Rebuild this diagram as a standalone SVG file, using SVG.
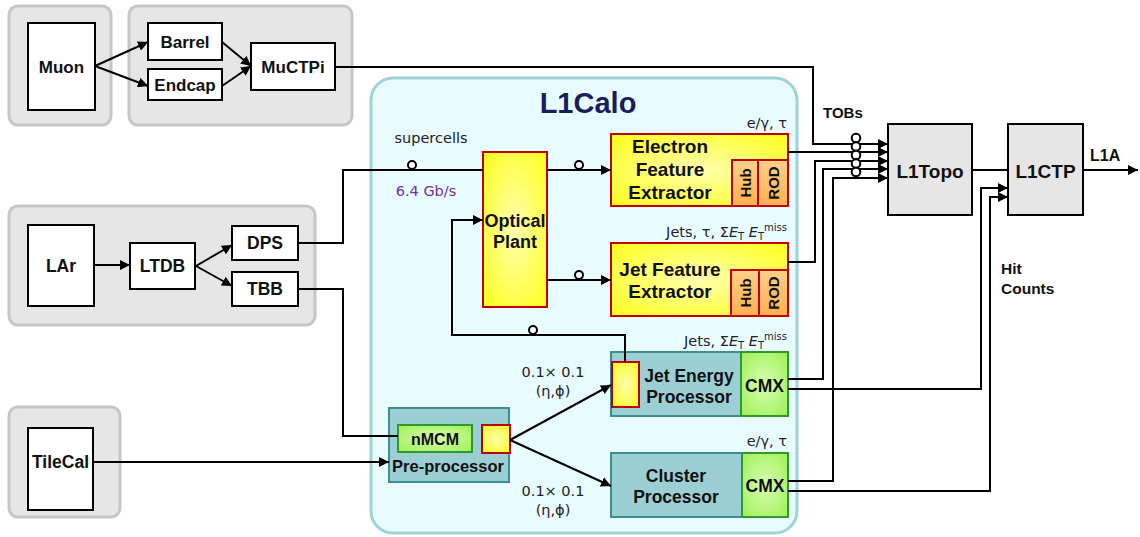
<svg xmlns="http://www.w3.org/2000/svg" width="1140" height="537" viewBox="0 0 1140 537">
<style>
.grp{fill:#e6e6e6;stroke:#c6c6c6;stroke-width:3}
.wb{fill:#fff;stroke:#000;stroke-width:2}
.gb{fill:#e6e6e6;stroke:#000;stroke-width:2}
.yb{fill:url(#yel);stroke:#c00000;stroke-width:2}
.ob{fill:url(#org);stroke:#c00000;stroke-width:2}
.tb{fill:#9ccfd3;stroke:#3d8e93;stroke-width:2}
.cb{fill:url(#grn);stroke:#2e9a2e;stroke-width:2}
.b{font-family:"Liberation Sans",Arial,sans-serif;font-weight:bold;fill:#111;text-anchor:middle}
.bs{font-family:"Liberation Sans",Arial,sans-serif;font-weight:bold;fill:#111;text-anchor:start}
.t{font-family:"DejaVu Sans",Verdana,sans-serif;fill:#222;font-size:14.5px}
.ln{fill:none;stroke:#000;stroke-width:2}
.ring{fill:#fff;stroke:#000;stroke-width:2}
</style>
<defs>
<radialGradient id="yel" cx="0.5" cy="0.5" r="0.75">
<stop offset="0" stop-color="#ffffb0"/><stop offset="1" stop-color="#ffff10"/>
</radialGradient>
<linearGradient id="org" x1="0" y1="0" x2="0" y2="1">
<stop offset="0" stop-color="#ffd088"/><stop offset="1" stop-color="#ffb050"/>
</linearGradient>
<radialGradient id="grn" cx="0.5" cy="0.5" r="0.75">
<stop offset="0" stop-color="#d8ffb0"/><stop offset="1" stop-color="#99ee50"/>
</radialGradient>
<marker id="ar" viewBox="0 0 10 10" refX="10" refY="5" markerWidth="10" markerHeight="10" markerUnits="userSpaceOnUse" orient="auto">
<path d="M0,0 L10,5 L0,10 z" fill="#000"/>
</marker>
</defs>

<!-- background groups -->
<g id="muon-group">
<rect class="grp" x="9" y="6" width="102" height="119" rx="9"/>
<rect class="grp" x="129" y="6" width="223" height="119" rx="9"/>
</g>
<g id="lar-group"><rect class="grp" x="9" y="206" width="306" height="119" rx="9"/></g>
<g id="tile-group"><rect class="grp" x="9" y="407" width="111" height="110" rx="9"/></g>
<g id="l1calo">
<rect x="371" y="78" width="426" height="455" rx="22" fill="#e8fcff" stroke="#9fd3d8" stroke-width="3"/>
<text x="588" y="113" style="font-family:'Liberation Sans',Arial,sans-serif;font-weight:bold;font-size:29px;fill:#1c1c5a;text-anchor:middle">L1Calo</text>
</g>

<g id="muon"><rect class="wb" x="28" y="23" width="67" height="87"/><text class="b" x="61.5" y="73" font-size="17">Muon</text></g>
<g id="barrel"><rect class="wb" x="148" y="23" width="74" height="37"/><text class="b" x="185" y="48" font-size="17">Barrel</text></g>
<g id="endcap"><rect class="wb" x="148" y="69" width="74" height="31"/><text class="b" x="185" y="91" font-size="17">Endcap</text></g>
<g id="muctpi"><rect class="wb" x="251" y="43" width="84" height="47"/><text class="b" x="293" y="73" font-size="17">MuCTPi</text></g>

<g id="lar"><rect class="wb" x="28" y="225" width="66" height="81"/><text class="b" x="61" y="272" font-size="17.5">LAr</text></g>
<g id="ltdb"><rect class="wb" x="130" y="243" width="65" height="46"/><text class="b" x="162.5" y="272" font-size="17.5">LTDB</text></g>
<g id="dps"><rect class="wb" x="232" y="226" width="66" height="34"/><text class="b" x="265" y="249" font-size="17.5">DPS</text></g>
<g id="tbb"><rect class="wb" x="232" y="272" width="66" height="34"/><text class="b" x="265" y="295" font-size="17.5">TBB</text></g>

<g id="tilecal"><rect class="wb" x="28" y="428" width="65" height="82"/><text class="b" x="60.5" y="468" font-size="17.5">TileCal</text></g>

<g id="optical-plant"><rect class="yb" x="483" y="152" width="64" height="155"/>
<text class="b" x="515" y="227" font-size="18">Optical</text><text class="b" x="515" y="248" font-size="18">Plant</text></g>

<g id="efex"><rect class="yb" x="611" y="134" width="177" height="72"/>
<rect class="ob" x="732" y="160" width="26" height="46"/><rect class="ob" x="758" y="160" width="30" height="46"/>
<text class="b" x="670" y="153" font-size="19">Electron</text><text class="b" x="670" y="176" font-size="19">Feature</text><text class="b" x="670" y="199" font-size="19">Extractor</text>
<text class="b" transform="translate(750.5,183) rotate(-90)" font-size="15">Hub</text>
<text class="b" transform="translate(778.5,183) rotate(-90)" font-size="15">ROD</text>
<text class="t" x="787" y="128" text-anchor="end">e/γ, τ</text></g>

<g id="jfex"><rect class="yb" x="611" y="243" width="177" height="73"/>
<rect class="ob" x="731" y="270" width="28" height="46"/><rect class="ob" x="759" y="270" width="29" height="46"/>
<text class="b" x="670" y="276" font-size="19">Jet Feature</text><text class="b" x="670" y="298" font-size="19">Extractor</text>
<text class="b" transform="translate(750.5,293) rotate(-90)" font-size="15">Hub</text>
<text class="b" transform="translate(779,293) rotate(-90)" font-size="15">ROD</text>
<text class="t" x="787" y="237" text-anchor="end">Jets, τ, Σ<tspan font-style="italic">E</tspan><tspan font-size="10" dy="3">T</tspan><tspan dy="-3"> </tspan><tspan font-style="italic">E</tspan><tspan font-size="10" dy="3">T</tspan><tspan font-size="10" dy="-9">miss</tspan></text></g>

<g id="jep"><rect class="tb" x="611" y="352" width="177" height="64"/>
<rect class="cb" x="741" y="352" width="47" height="64"/>
<rect class="yb" x="612" y="362" width="27" height="45"/>
<text class="b" x="689" y="382" font-size="17.5">Jet Energy</text><text class="b" x="689" y="403" font-size="17.5">Processor</text>
<text class="b" x="764.5" y="392" font-size="17.5">CMX</text>
<text class="t" x="787" y="346" text-anchor="end">Jets, Σ<tspan font-style="italic">E</tspan><tspan font-size="10" dy="3">T</tspan><tspan dy="-3"> </tspan><tspan font-style="italic">E</tspan><tspan font-size="10" dy="3">T</tspan><tspan font-size="10" dy="-9">miss</tspan></text></g>

<g id="cp"><rect class="tb" x="611" y="453" width="177" height="64"/>
<rect class="cb" x="742" y="453" width="46" height="64"/>
<text class="b" x="676" y="482" font-size="17.5">Cluster</text><text class="b" x="676" y="503" font-size="17.5">Processor</text>
<text class="b" x="765" y="492" font-size="17.5">CMX</text>
<text class="t" x="787" y="446" text-anchor="end">e/γ, τ</text></g>

<g id="preprocessor"><rect class="tb" x="389" y="408" width="120" height="74"/>
<rect class="cb" x="398" y="425" width="74" height="27"/>
<rect class="yb" x="482" y="425" width="28" height="28"/>
<text class="b" x="435" y="445" font-size="16">nMCM</text>
<text class="b" x="448" y="472" font-size="16.5">Pre-processor</text></g>

<g id="l1topo"><rect class="gb" x="888" y="124" width="84" height="91"/><text class="b" x="930" y="178" font-size="19">L1Topo</text></g>
<g id="l1ctp"><rect class="gb" x="1008" y="124" width="75" height="91"/><text class="b" x="1045.5" y="178" font-size="19">L1CTP</text></g>

<g id="labels">
<text class="t" x="431" y="143" text-anchor="middle">supercells</text>
<text class="t" x="426" y="196" text-anchor="middle" style="fill:#7030a0">6.4 Gb/s</text>
<text class="t" x="553" y="377" text-anchor="middle">0.1× 0.1</text>
<text class="t" x="553" y="396" text-anchor="middle">(η,ϕ)</text>
<text class="t" x="553" y="496" text-anchor="middle">0.1× 0.1</text>
<text class="t" x="553" y="515" text-anchor="middle">(η,ϕ)</text>
<text class="bs" x="823" y="118" font-size="15">TOBs</text>
<text class="bs" x="1090" y="161" font-size="16">L1A</text>
<text class="bs" x="1001" y="274" font-size="15.5">Hit</text>
<text class="bs" x="1001" y="294" font-size="15.5">Counts</text>
</g>

<g id="connectors">
<path class="ln" d="M95,66 L148,42" marker-end="url(#ar)"/>
<path class="ln" d="M95,66 L148,86" marker-end="url(#ar)"/>
<path class="ln" d="M222,42 L251,66" marker-end="url(#ar)"/>
<path class="ln" d="M222,86 L251,66" marker-end="url(#ar)"/>
<path class="ln" d="M94,265 L130,265" marker-end="url(#ar)"/>
<path class="ln" d="M196,266 L232,245" marker-end="url(#ar)"/>
<path class="ln" d="M196,266 L232,286" marker-end="url(#ar)"/>
<path class="ln" d="M298,243 L343,243 L343,170 L483,170"/>
<path class="ln" d="M298,289 L343,289 L343,436 L398,436"/>
<path class="ln" d="M93,462 L389,462" marker-end="url(#ar)"/>
<path class="ln" d="M547,170 L611,170" marker-end="url(#ar)"/>
<path class="ln" d="M547,280 L611,280" marker-end="url(#ar)"/>
<path class="ln" d="M625,362 L625,335 L452,335 L452,220 L483,220" marker-end="url(#ar)"/>
<path class="ln" d="M510,440 L611,385" marker-end="url(#ar)"/>
<path class="ln" d="M510,440 L611,486" marker-end="url(#ar)"/>
<!-- to L1Topo -->
<path class="ln" d="M335,67 L813,67 L813,144 L888,144" marker-end="url(#ar)"/>
<path class="ln" d="M788,152 L888,152" marker-end="url(#ar)"/>
<path class="ln" d="M788,262 L815,262 L815,161 L888,161" marker-end="url(#ar)"/>
<path class="ln" d="M788,379 L823,379 L823,169 L888,169" marker-end="url(#ar)"/>
<path class="ln" d="M788,481 L833,481 L833,178 L888,178" marker-end="url(#ar)"/>
<!-- hit counts -->
<path class="ln" d="M788,389 L981,389 L981,188 L1008,188" marker-end="url(#ar)"/>
<path class="ln" d="M788,491 L990,491 L990,197 L1008,197" marker-end="url(#ar)"/>
<path class="ln" d="M972,170 L1008,170"/>
<path class="ln" d="M1083,170 L1138,170" marker-end="url(#ar)"/>
<!-- rings -->
<circle class="ring" cx="412" cy="165" r="4"/>
<circle class="ring" cx="579" cy="165" r="4"/>
<circle class="ring" cx="579" cy="275" r="4"/>
<circle class="ring" cx="533" cy="330" r="4"/>
<circle class="ring" cx="856" cy="138" r="4.3"/>
<circle class="ring" cx="856" cy="146.5" r="4.3"/>
<circle class="ring" cx="856" cy="155" r="4.3"/>
<circle class="ring" cx="856" cy="163.5" r="4.3"/>
<circle class="ring" cx="856" cy="172" r="4.3"/>
</g>
</svg>
